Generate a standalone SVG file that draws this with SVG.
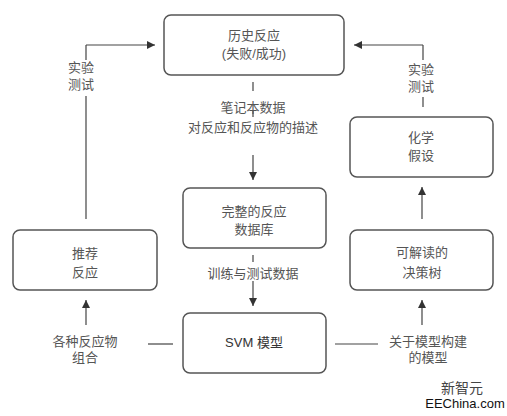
<svg xmlns="http://www.w3.org/2000/svg" width="507" height="416" viewBox="0 0 507 416">
<defs>
<marker id="ah" viewBox="0 0 10 10" refX="10" refY="5" markerWidth="8" markerHeight="8" markerUnits="userSpaceOnUse" orient="auto"><path d="M0,0 L10,5 L0,10 z" fill="#333"/></marker>
<style>
.box{fill:#fff;stroke:#555;stroke-width:1.5}
.t{font-family:"Liberation Sans","Noto Sans CJK SC",sans-serif;font-size:13px;fill:#555;text-anchor:middle;dominant-baseline:central}
.ln{stroke:#444;stroke-width:1.2;fill:none}
.arr{stroke:#444;stroke-width:1.2;fill:none;marker-end:url(#ah)}
</style>
</defs>
<rect width="507" height="416" fill="#fff"/>
<g id="connectors">
<polyline class="ln" points="86,60 86,45"/>
<polyline class="arr" points="86,45 155,45"/>
<line class="ln" x1="86" y1="96" x2="86" y2="219"/>
<polyline class="ln" points="423,60 423,45"/>
<polyline class="arr" points="423,45 354,45"/>
<line class="ln" x1="423" y1="97" x2="423" y2="107"/>
<line class="ln" x1="253" y1="82" x2="253" y2="91"/>
<line class="ln" x1="253" y1="110" x2="253" y2="117"/>
<line class="arr" x1="253" y1="155" x2="253" y2="180"/>
<line class="ln" x1="253" y1="255" x2="253" y2="262"/>
<line class="arr" x1="253" y1="281" x2="253" y2="306"/>
<line class="arr" x1="86" y1="325" x2="86" y2="300"/>
<line class="arr" x1="422" y1="219" x2="422" y2="187"/>
<line class="arr" x1="422" y1="325" x2="422" y2="300"/>
<line class="ln" x1="148" y1="344" x2="173" y2="344"/>
<line class="ln" x1="335" y1="344" x2="378" y2="344"/>
<text class="t" x="81" y="67">实验</text>
<text class="t" x="81" y="84">测试</text>
<text class="t" x="421" y="69">实验</text>
<text class="t" x="421" y="86">测试</text>
<text class="t" x="253" y="107">笔记本数据</text>
<text class="t" x="253" y="127">对反应和反应物的描述</text>
<text class="t" x="253" y="273">训练与测试数据</text>
<text class="t" x="85" y="341">各种反应物</text>
<text class="t" x="85" y="357">组合</text>
<text class="t" x="428" y="341">关于模型构建</text>
<text class="t" x="428" y="357">的模型</text>
</g>
<g id="history">
<rect class="box" x="164" y="15" width="180" height="60" rx="7"/>
<text class="t" x="254" y="35">历史反应</text>
<text class="t" x="254" y="53">(失败/成功)</text>
</g>
<g id="hypothesis">
<rect class="box" x="350" y="117" width="143" height="60" rx="7"/>
<text class="t" x="421" y="137">化学</text>
<text class="t" x="421" y="155">假设</text>
</g>
<g id="database">
<rect class="box" x="183" y="188" width="143" height="60" rx="7"/>
<text class="t" x="254" y="211">完整的反应</text>
<text class="t" x="254" y="229">数据库</text>
</g>
<g id="recommend">
<rect class="box" x="13" y="230" width="144" height="60" rx="7"/>
<text class="t" x="85" y="253">推荐</text>
<text class="t" x="85" y="272">反应</text>
</g>
<g id="tree">
<rect class="box" x="350" y="230" width="143" height="60" rx="7"/>
<text class="t" x="422" y="252">可解读的</text>
<text class="t" x="422" y="272">决策树</text>
</g>
<g id="svm">
<rect class="box" x="183" y="313" width="143" height="60" rx="7"/>
<text class="t" x="254" y="342" style="fill:#333">SVM 模型</text>
</g>
<g id="watermark">
<text x="462" y="387" style="font-family:'Noto Sans CJK SC',sans-serif;font-size:14px;fill:#444;text-anchor:middle;dominant-baseline:central">新智元</text>
<text x="465" y="403" style="font-family:'Liberation Sans',sans-serif;font-size:13px;fill:#111;text-anchor:middle;dominant-baseline:central">EEChina.com</text>
</g>
</svg>
